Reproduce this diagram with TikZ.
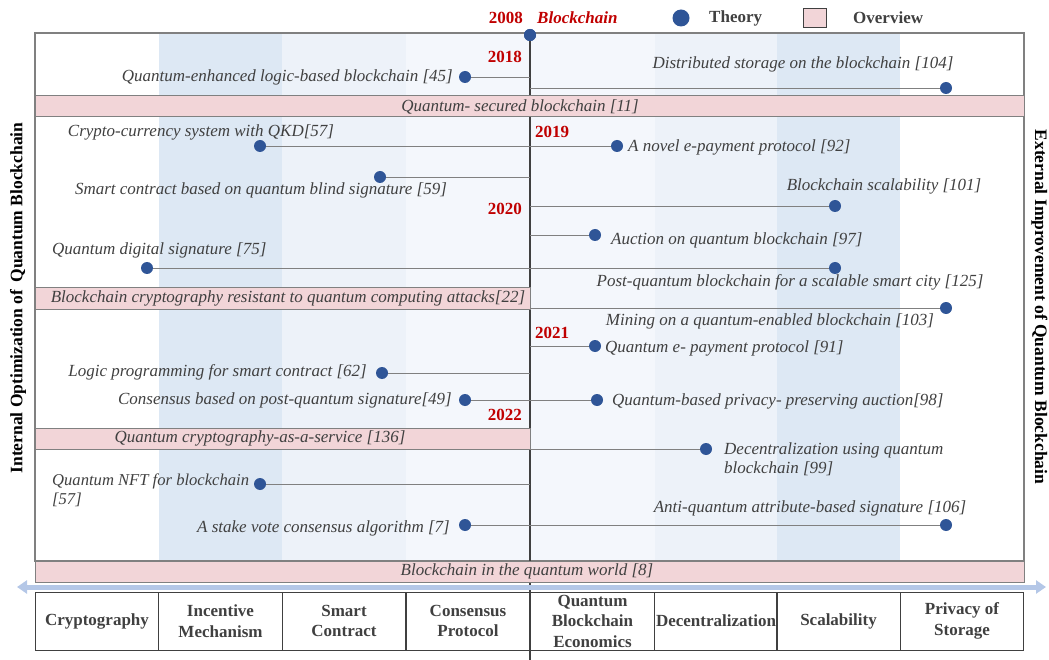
\documentclass[tikz,border=0pt]{standalone}
\usepackage{fontspec}
\setmainfont{Liberation Serif}
\usetikzlibrary{arrows.meta}
\definecolor{dotblue}{HTML}{2F5597}
\definecolor{pinkbar}{HTML}{F2D5D8}
\definecolor{colA}{HTML}{DDE8F4}
\definecolor{colB}{HTML}{EDF2F9}
\definecolor{colC}{HTML}{F4F7FC}
\definecolor{txtgray}{HTML}{404040}
\definecolor{linegray}{HTML}{808080}
\definecolor{yearred}{HTML}{C00000}
\definecolor{arrowblue}{HTML}{B4C7E7}
\tikzset{
  tdot/.style={circle, fill=dotblue, inner sep=0pt, minimum size=12pt},
  lbl/.style={font=\fontsize{17}{19}\selectfont\itshape, text=txtgray, inner sep=0pt},
  yr/.style={font=\fontsize{17}{19}\selectfont\bfseries, text=yearred, inner sep=0pt},
  ovbar/.style={draw=linegray, fill=pinkbar, line width=1pt, inner sep=0pt, minimum height=21pt},
  conn/.style={draw=linegray, line width=0.9pt},
  catbox/.style={draw=txtgray, line width=1pt, minimum height=58pt, minimum width=123.6pt, inner sep=0pt,
    align=center, font=\fontsize{17}{20.5}\selectfont\bfseries, text=txtgray},
  side/.style={font=\fontsize{17.5}{19}\selectfont\bfseries, text=black, inner sep=0pt},
  legtxt/.style={font=\fontsize{17}{19}\selectfont\bfseries, text=txtgray, inner sep=0pt},
}
\begin{document}
\begin{tikzpicture}[x=1pt,y=-1pt]
\useasboundingbox (0,0) rectangle (1049,660);
% column shading
\fill[colA] (159,33) rectangle (282,561);
\fill[colB] (282,33) rectangle (406,561);
\fill[colC] (406,33) rectangle (655,561);
\fill[colB] (655,33) rectangle (777,561);
\fill[colA] (777,33) rectangle (900,561);
% frame
\draw[linegray, line width=1.2pt] (35,33) rectangle (1024,561);
% central axis
\node[tdot] (d2008) at (530,35) {};
\coordinate (axbot) at (530,660);
\draw[txtgray, line width=1.6pt] (d2008.center) -- (axbot);
\node[tdot] (d2008b) at (530,35) {};
% overview bars
\node[ovbar, minimum width=989pt] (ov11) at (529.5,106.5) {};
\node[lbl] (ov11t) at (520,106.5) {Quantum- secured blockchain [11]};
\node[ovbar, minimum width=495pt] (ov22) at (282.5,298.5) {};
\node[lbl] (ov22t) at (288,298.5) {Blockchain cryptography resistant to quantum computing attacks[22]};
\node[ovbar, minimum width=495pt] (ov136) at (282.5,438.5) {};
\node[lbl] (ov136t) at (260,438.5) {Quantum cryptography-as-a-service [136]};
\node[ovbar, minimum width=989pt] (ov8) at (529.5,571.5) {};
\node[lbl] (ov8t) at (527,571.5) {Blockchain in the quantum world [8]};
% bottom arrow
\coordinate (arL) at (17,587);
\coordinate (arR) at (1046,587);
\draw[arrowblue, line width=5pt, {Triangle[width=13pt,length=10pt]}-{Triangle[width=13pt,length=10pt]}] (arL) -- (arR);
% category boxes
\node[catbox] (c1) at (97,621) {Cryptography};
\node[catbox] (c2) at (220.5,621) {Incentive\\Mechanism};
\node[catbox] (c3) at (344,621) {Smart\\Contract};
\node[catbox] (c4) at (468,621) {Consensus\\Protocol};
\node[catbox] (c5) at (592.5,621) {Quantum\\Blockchain\\Economics};
\node[catbox] (c6) at (716,621) {Decentralization};
\node[catbox] (c7) at (838.5,621) {Scalability};
\node[catbox] (c8) at (962,621) {Privacy of\\Storage};
\draw[txtgray, line width=1.6pt] (530,592) -- (axbot);
% top labels
\node[yr, anchor=east] (y2008) at (523,18) {2008};
\node[yr, anchor=west, font=\fontsize{17}{19}\selectfont\bfseries\itshape] (bc) at (537,18) {Blockchain};
\node[tdot, minimum size=17pt] (legdot) at (681,18) {};
\node[legtxt, anchor=west] (legth) at (709,18) {Theory};
\node[draw=txtgray, fill=pinkbar, line width=0.8pt, minimum width=23pt, minimum height=19pt, inner sep=0pt] (legbox) at (815,17.5) {};
\node[legtxt, anchor=west] (legov) at (853,18) {Overview};
% side labels
\node[side, rotate=90] (leftside) at (18,298) {Internal Optimization of\,\ Quantum Blockchain};
\node[side, rotate=-90] (rightside) at (1039.5,307) {External Improvement of Quantum Blockchain};
% years
\node[yr, anchor=east] (y2018) at (522,57) {2018};
\node[yr, anchor=west] (y2019) at (535,132) {2019};
\node[yr, anchor=east] (y2020) at (522,209) {2020};
\node[yr, anchor=west] (y2021) at (535,333) {2021};
\node[yr, anchor=east] (y2022) at (522,415) {2022};
% entries
\coordinate (a1) at (530,77);
\node[tdot] (p45) at (465,77) {};
\draw[conn] (a1) -- (p45);
\node[lbl, anchor=east] (t45) at (453,77) {Quantum-enhanced logic-based blockchain [45]};

\coordinate (a2) at (530,88);
\node[tdot] (p104) at (946,88) {};
\draw[conn] (a2) -- (p104);
\node[lbl] (t104) at (803,64) {Distributed storage on the blockchain [104]};

\coordinate (a3) at (530,146);
\node[tdot] (p57) at (260,146) {};
\node[tdot] (p92) at (617,146) {};
\draw[conn] (a3) -- (p57);
\draw[conn] (a3) -- (p92);
\node[lbl] (t57) at (201,132) {Crypto-currency system with QKD[57]};
\node[lbl, anchor=west] (t92) at (628,147) {A novel e-payment protocol [92]};

\coordinate (a4) at (530,177);
\node[tdot] (p59) at (380,177) {};
\draw[conn] (a4) -- (p59);
\node[lbl] (t59) at (261,190) {Smart contract based on quantum blind signature [59]};

\coordinate (a5) at (530,206);
\node[tdot] (p101) at (835,206) {};
\draw[conn] (a5) -- (p101);
\node[lbl] (t101) at (884,186) {Blockchain scalability [101]};

\coordinate (a6) at (530,235);
\node[tdot] (p97) at (595,235) {};
\draw[conn] (a6) -- (p97);
\node[lbl, anchor=west] (t97) at (611,240) {Auction on quantum blockchain [97]};

\node[tdot] (p75) at (147,268) {};
\node[tdot] (p125) at (835,268) {};
\draw[conn] (p75) -- (p125);
\node[lbl, anchor=west] (t75) at (52,250) {Quantum digital signature [75]};
\node[lbl] (t125) at (790,282) {Post-quantum blockchain for a scalable smart city [125]};

\coordinate (a7) at (530,308);
\node[tdot] (p103) at (946,308) {};
\draw[conn] (a7) -- (p103);
\node[lbl] (t103) at (770,321) {Mining on a quantum-enabled blockchain [103]};

\coordinate (a8) at (530,346);
\node[tdot] (p91) at (595,346) {};
\draw[conn] (a8) -- (p91);
\node[lbl, anchor=west] (t91) at (605,348) {Quantum e- payment protocol [91]};

\coordinate (a9) at (530,373);
\node[tdot] (p62) at (382,373) {};
\draw[conn] (a9) -- (p62);
\node[lbl, anchor=east] (t62) at (367,372) {Logic programming for smart contract [62]};

\coordinate (a10) at (530,400);
\node[tdot] (p49) at (465,400) {};
\node[tdot] (p98) at (597,400) {};
\draw[conn] (a10) -- (p49);
\draw[conn] (a10) -- (p98);
\node[lbl, anchor=east] (t49) at (452,400) {Consensus based on post-quantum signature[49]};
\node[lbl, anchor=west] (t98) at (612,401) {Quantum-based privacy- preserving auction[98]};

\coordinate (a11) at (530,449);
\node[tdot] (p99) at (706,449) {};
\draw[conn] (a11) -- (p99);
\node[lbl, anchor=west, align=left] (t99) at (724,459) {Decentralization using quantum\\blockchain [99]};

\coordinate (a12) at (530,484);
\node[tdot] (p57b) at (260,484) {};
\draw[conn] (a12) -- (p57b);
\node[lbl, anchor=west, align=left, font=\fontsize{16.6}{19}\selectfont\itshape] (t57b) at (52,490) {Quantum NFT for blockchain\\{}[57]};

\node[tdot] (p7) at (465,525) {};
\node[tdot] (p106) at (946,525) {};
\draw[conn] (p7) -- (p106);
\node[lbl, anchor=east] (t7) at (450,528) {A stake vote consensus algorithm [7]};
\node[lbl] (t106) at (810,508) {Anti-quantum attribute-based signature [106]};
\end{tikzpicture}
\end{document}
